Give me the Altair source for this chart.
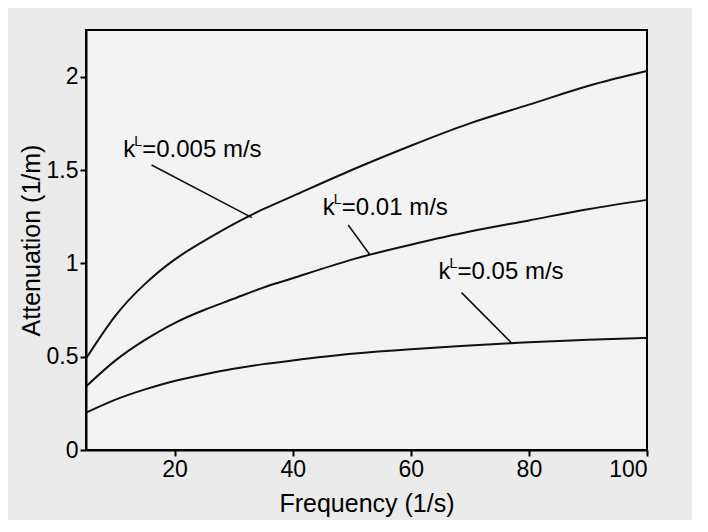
import altair as alt
import pandas as pd

# ---- data ----
freq = [5, 10, 15, 20, 25, 30, 35, 40, 50, 60, 70, 80, 90, 100]
att_k0005 = [0.49, 0.72, 0.89, 1.02, 1.12, 1.21, 1.29, 1.36, 1.50, 1.63, 1.75, 1.85, 1.95, 2.03]
att_k001 = [0.34, 0.48, 0.59, 0.68, 0.75, 0.81, 0.87, 0.92, 1.02, 1.10, 1.17, 1.23, 1.29, 1.34]
att_k005 = [0.20, 0.27, 0.325, 0.37, 0.405, 0.435, 0.46, 0.48, 0.515, 0.54, 0.56, 0.577, 0.59, 0.60]
series = ["0.005", "0.01", "0.05"]

x_ticks = [20, 40, 60, 80, 100]
y_ticks = [0, 0.5, 1, 1.5, 2]

# annotation labels (text anchor and pointer line, in data units)
label_text = ["=0.005 m/s", "=0.01 m/s", "=0.05 m/s"]
label_f = [11.3, 45.1, 64.7]
label_a = [1.57, 1.259, 0.914]
ptr_f1 = [16.1, 49.4, 68.6]
ptr_a1 = [1.527, 1.205, 0.843]
ptr_f2 = [33.1, 53.1, 77.1]
ptr_a2 = [1.245, 1.045, 0.572]

rows = []
for name, vals in zip(series, [att_k0005, att_k001, att_k005]):
    for f, a in zip(freq, vals):
        rows.append({"f": f, "a": a, "series": name})
df = pd.DataFrame(rows)

ann = pd.DataFrame({
    "text": label_text, "f": label_f, "a": label_a,
    "f1": ptr_f1, "a1": ptr_a1, "f2": ptr_f2, "a2": ptr_a2,
    "k": ["k"] * 3, "sup": ["L"] * 3,
})

FONT = "Liberation Sans"
xscale = alt.Scale(domain=[5, 100], nice=False, zero=False)
yscale = alt.Scale(domain=[0, 2.25], nice=False)

xaxis = alt.Axis(values=x_ticks, title="Frequency (1/s)", titlePadding=10)
yaxis = alt.Axis(values=y_ticks, title="Attenuation (1/m)", format="~g", titlePadding=2)

lines = alt.Chart(df).mark_line(color="#111111", strokeWidth=2, interpolate="natural").encode(
    x=alt.X("f:Q", scale=xscale, axis=xaxis),
    y=alt.Y("a:Q", scale=yscale, axis=yaxis),
    detail="series:N",
)

ptrs = alt.Chart(ann).mark_rule(color="#111111", strokeWidth=1.6).encode(
    x=alt.X("f1:Q", scale=xscale), y=alt.Y("a1:Q", scale=yscale),
    x2="f2:Q", y2="a2:Q",
)

txt_k = alt.Chart(ann).mark_text(align="left", baseline="alphabetic", font=FONT,
                                 fontSize=24, color="black").encode(
    x=alt.X("f:Q", scale=xscale), y=alt.Y("a:Q", scale=yscale), text="k:N")
txt_sup = alt.Chart(ann).mark_text(align="left", baseline="alphabetic", font=FONT,
                                   fontSize=14, color="black", dx=11, dy=-11).encode(
    x=alt.X("f:Q", scale=xscale), y=alt.Y("a:Q", scale=yscale), text="sup:N")
txt_main = alt.Chart(ann).mark_text(align="left", baseline="alphabetic", font=FONT,
                                    fontSize=24, color="black", dx=19).encode(
    x=alt.X("f:Q", scale=xscale), y=alt.Y("a:Q", scale=yscale), text="text:N")

chart = alt.layer(lines, ptrs, txt_k, txt_sup, txt_main).properties(
    width=561, height=420,
    autosize=alt.AutoSizeParams(type="none"),
    padding={"left": 78, "top": 22, "right": 45, "bottom": 70},
    background="#ebebeb",
).configure_view(
    stroke="black", strokeWidth=2, fill="#f3f3f3"
).configure_axis(
    grid=False, labelFontSize=23, titleFontSize=25, labelFont=FONT, titleFont=FONT,
    labelColor="black", titleColor="black", titleFontWeight="normal",
    domainColor="black", domainWidth=2, tickColor="black", tickWidth=2,
    tickSize=6, labelPadding=2,
)

chart.save("out.html", embed_options={"renderer": "svg", "actions": False})
